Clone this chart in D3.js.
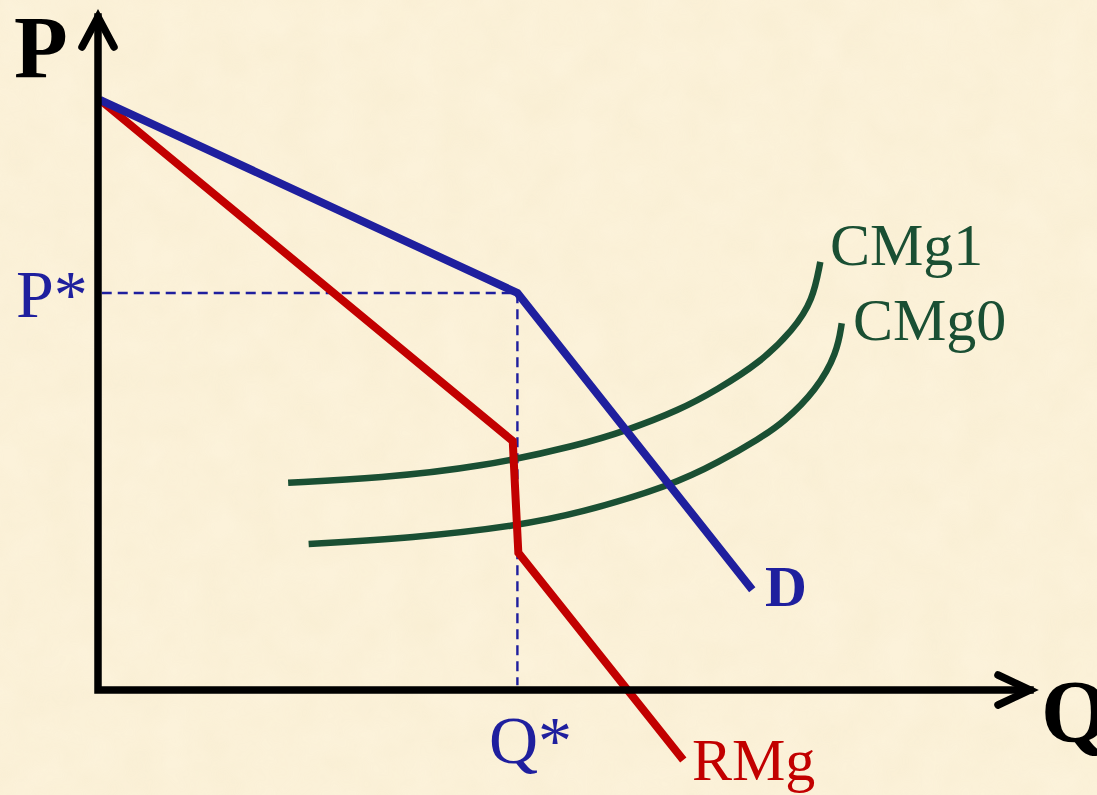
<!DOCTYPE html>
<html>
<head>
<meta charset="utf-8">
<script src="https://cdn.jsdelivr.net/npm/d3@7"></script>
<style>
  html, body { margin: 0; padding: 0; background: #faf0d6; }
  svg { display: block; }
</style>
</head>
<body>
<div id="chart"></div>
<script>
// Tamaño del lienzo
const width = 1097;
const height = 795;

// Datos (unidades del gráfico, origen en el cruce de ejes)
const demandaD = [[0.02, 8.77], [4.5, 5.9], [7.02, 1.49]];
const ingresoRMg = [[0.02, 8.77], [4.45, 3.70], [4.51, 2.04], [6.28, -1.04]];
const costoCMg1 = [[2.04, 3.08], [3.03, 3.15], [4.10, 3.31], [5.17, 3.64], [5.68, 3.86], [6.24, 4.16],
                   [6.64, 4.46], [7.10, 4.86], [7.46, 5.35], [7.67, 5.79], [7.75, 6.36]];
const costoCMg0 = [[2.26, 2.17], [3.38, 2.26], [4.50, 2.44], [5.17, 2.63], [6.14, 3.03], [6.67, 3.39],
                   [7.10, 3.74], [7.35, 3.97], [7.71, 4.46], [7.93, 5.01], [7.98, 5.45]];
const equilibrio = { q: 4.5, p: 5.9 };
const etiquetas = { ejeY: "P", ejeX: "Q", precio: "P*", cantidad: "Q*",
                    d: "D", rmg: "RMg", cmg1: "CMg1", cmg0: "CMg0" };

// Colores
const azul = "#1f1f9e";
const rojo = "#c20000";
const verde = "#1a4f33";
const fuente = "'Liberation Serif', Tinos, 'Times New Roman', Times, 'DejaVu Serif', serif";

// Escalas
const x = d3.scaleLinear().domain([0, 10]).range([98, 1030]);
const y = d3.scaleLinear().domain([0, 10]).range([690, 17]);

const svg = d3.select("#chart").append("svg")
    .attr("width", width)
    .attr("height", height);

// Fondo con textura suave
const defs = svg.append("defs");
const filtro = defs.append("filter").attr("id", "textura")
    .attr("x", 0).attr("y", 0).attr("width", "100%").attr("height", "100%");
filtro.append("feTurbulence")
    .attr("type", "fractalNoise")
    .attr("baseFrequency", 0.025)
    .attr("numOctaves", 3)
    .attr("seed", 4);
filtro.append("feColorMatrix")
    .attr("type", "matrix")
    .attr("values", "0 0 0 0 0.85  0 0 0 0 0.75  0 0 0 0 0.5  0 0 0 0.4 -0.08");

svg.append("rect").attr("width", width).attr("height", height).attr("fill", "#fcf2da");
svg.append("rect").attr("width", width).attr("height", height)
    .attr("filter", "url(#textura)").attr("opacity", 0.65);

const linea = d3.line().x(d => x(d[0])).y(d => y(d[1]));
const curva = d3.line().x(d => x(d[0])).y(d => y(d[1])).curve(d3.curveBasis);

// Líneas punteadas de equilibrio
svg.append("path")
    .attr("d", linea([[0.04, equilibrio.p], [equilibrio.q, equilibrio.p], [equilibrio.q, 0.07]]))
    .attr("fill", "none")
    .attr("stroke", azul)
    .attr("stroke-width", 2.4)
    .attr("stroke-dasharray", "10,6");

// Costos marginales
[costoCMg1, costoCMg0].forEach(serie => {
  svg.append("path")
      .attr("d", curva(serie))
      .attr("fill", "none")
      .attr("stroke", verde)
      .attr("stroke-width", 6.5);
});

// Ingreso marginal
svg.append("path")
    .attr("d", linea(ingresoRMg))
    .attr("fill", "none")
    .attr("stroke", rojo)
    .attr("stroke-width", 8)
    .attr("stroke-linejoin", "miter");

// Demanda
svg.append("path")
    .attr("d", linea(demandaD))
    .attr("fill", "none")
    .attr("stroke", azul)
    .attr("stroke-width", 8)
    .attr("stroke-linejoin", "miter");

// Ejes con flechas
const ejes = svg.append("g")
    .attr("fill", "none")
    .attr("stroke", "#000")
    .attr("stroke-width", 7.5);
ejes.append("path")
    .attr("d", `M${x(0)},${y(0)}V${y(10)}M${x(10)},${y(0)}H${x(0)}`)
    .attr("stroke-linecap", "square");
ejes.append("path")
    .attr("d", `M${x(0) - 16},${y(10) + 30}L${x(0)},${y(10)}L${x(0) + 16},${y(10) + 30}`)
    .attr("stroke-linecap", "round").attr("stroke-linejoin", "miter");
ejes.append("path")
    .attr("d", `M${x(10) - 32},${y(0) - 15}L${x(10)},${y(0)}L${x(10) - 32},${y(0) + 15}`)
    .attr("stroke-linecap", "round").attr("stroke-linejoin", "miter");

// Etiquetas
function etiqueta(texto, px, py, color, size, bold) {
  svg.append("text")
      .attr("x", px)
      .attr("y", py)
      .attr("fill", color)
      .attr("font-family", fuente)
      .style("font-size", size + "px")
      .style("font-weight", bold ? "bold" : "normal")
      .text(texto);
}

etiqueta(etiquetas.ejeY, 14, 77, "#000", 88, true);
etiqueta(etiquetas.ejeX, 1041, 741, "#000", 88, true);
etiqueta(etiquetas.precio, 16, y(equilibrio.p) + 24, azul, 68, false);
etiqueta(etiquetas.cantidad, 489, 763, azul, 68, false);
etiqueta(etiquetas.d, 765, 606, azul, 58, true);
etiqueta(etiquetas.rmg, 692, 780, rojo, 60, false);
etiqueta(etiquetas.cmg1, 830, 265, verde, 60, false);
etiqueta(etiquetas.cmg0, 853, 340, verde, 60, false);
</script>
</body>
</html>
